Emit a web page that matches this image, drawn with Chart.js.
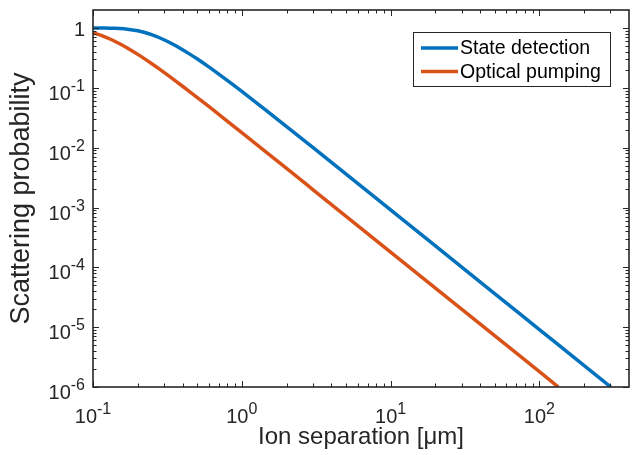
<!DOCTYPE html>
<html>
<head>
<meta charset="utf-8">
<script src="https://cdn.jsdelivr.net/npm/chart.js@4.4.1/dist/chart.umd.min.js"></script>
<style>
    html, body { margin: 0; padding: 0; background: #fff; }
</style>
</head>
<body>
<canvas id="scatterChart" width="632" height="455"></canvas>
<script>
// ==============================
// Data
// ==============================
const seriesNames = ["State detection", "Optical pumping"];
const seriesColors = ["#0072BD", "#D95319"];

const detectionSep = [0.1, 0.11, 0.12, 0.13, 0.14, 0.15, 0.17, 0.2, 0.22, 0.25, 0.28, 0.3, 0.33, 0.36, 0.4, 0.45, 0.5, 0.6, 0.7, 0.85, 1, 1.2, 1.5, 2, 3, 5, 10, 20, 50, 100, 200, 302];
const detectionProb = [0.9999, 0.9995, 0.9982, 0.9955, 0.9905, 0.9826, 0.9574, 0.8977, 0.848, 0.7676, 0.6875, 0.637, 0.5672, 0.5052, 0.4345, 0.3626, 0.3056, 0.2238, 0.1698, 0.1186, 0.0872, 0.0614, 0.0397, 0.02254, 0.01008, 0.003641, 0.000912, 0.000228, 3.648e-5, 9.12e-6, 2.28e-6, 1.0e-6];

const pumpingSep = [0.1, 0.11, 0.12, 0.13, 0.14, 0.15, 0.17, 0.2, 0.22, 0.25, 0.28, 0.3, 0.33, 0.36, 0.4, 0.45, 0.5, 0.6, 0.7, 0.85, 1, 1.5, 2, 3, 5, 10, 20, 50, 100, 134];
const pumpingProb = [0.8347, 0.7741, 0.7135, 0.6553, 0.6008, 0.5507, 0.4636, 0.3624, 0.3106, 0.2502, 0.2051, 0.1813, 0.1524, 0.1297, 0.1064, 0.0851, 0.0695, 0.0488, 0.03607, 0.0246, 0.01784, 0.007968, 0.00449, 0.001998, 0.00072, 0.00018, 4.5e-5, 7.2e-6, 1.8e-6, 1.0e-6];

const xTickExponents = [-1, 0, 1, 2];
const yTickExponents = [0, -1, -2, -3, -4, -5, -6];

const xRange = [0.1, 400];
const yRange = [1e-6, 2];

const FONT = "'Liberation Sans', Arial, Helvetica, sans-serif";
const AXIS_COLOR = "#262626";


function toPoints(xs, ys) {
    return xs.map((x, i) => ({ x: x, y: ys[i] }));
}


// ==============================
// Box, ticks, tick labels and legend drawn MATLAB style
// ==============================
const matlabAxes = {
    id: "matlabAxes",
    afterDraw(chart) {
        const ctx = chart.ctx;
        const area = chart.chartArea;
        const xs = chart.scales.x;
        const ys = chart.scales.y;

        ctx.save();
        ctx.strokeStyle = AXIS_COLOR;
        ctx.fillStyle = AXIS_COLOR;

        // minor + major ticks on all four sides
        ctx.lineWidth = 1;
        ctx.beginPath();
        for (let e = -1; e <= 2; e++) {
            for (let k = 1; k <= 9; k++) {
                const v = k * Math.pow(10, e);
                if (v <= xRange[0] && k > 1) continue;
                if (v >= xRange[1]) continue;
                const px = Math.round(xs.getPixelForValue(v)) + 0.5;
                const len = k === 1 ? 6 : 3.5;
                ctx.moveTo(px, area.bottom);
                ctx.lineTo(px, area.bottom - len);
                ctx.moveTo(px, area.top);
                ctx.lineTo(px, area.top + len);
            }
        }
        for (let e = -6; e <= 0; e++) {
            for (let k = 1; k <= 9; k++) {
                const v = k * Math.pow(10, e);
                if (v >= yRange[1]) continue;
                const py = Math.round(ys.getPixelForValue(v)) + 0.5;
                const len = k === 1 ? 6 : 3.5;
                ctx.moveTo(area.left, py);
                ctx.lineTo(area.left + len, py);
                ctx.moveTo(area.right, py);
                ctx.lineTo(area.right - len, py);
            }
        }
        ctx.stroke();

        // axes box
        ctx.lineWidth = 1.6;
        ctx.strokeRect(area.left, area.top, area.right - area.left, area.bottom - area.top);

        // x tick labels: 10^n
        const baseFont = "20px " + FONT;
        const expFont = "16px " + FONT;
        ctx.textBaseline = "alphabetic";
        ctx.textAlign = "left";
        xTickExponents.forEach(e => {
            const px = xs.getPixelForValue(Math.pow(10, e));
            ctx.font = baseFont;
            const wBase = ctx.measureText("10").width;
            ctx.font = expFont;
            const wExp = ctx.measureText(String(e)).width;
            const start = px - (wBase + wExp) / 2;
            const base = area.bottom + 36;
            ctx.font = baseFont;
            ctx.fillText("10", start, base);
            ctx.font = expFont;
            ctx.fillText(String(e), start + wBase, base - 9);
        });

        // y tick labels
        const rightEdge = area.left - 8;
        yTickExponents.forEach(e => {
            const py = ys.getPixelForValue(Math.pow(10, e));
            if (e === 0) {
                ctx.font = baseFont;
                ctx.textAlign = "right";
                ctx.fillText("1", rightEdge, py + 8);
                ctx.textAlign = "left";
                return;
            }
            ctx.font = baseFont;
            const wBase = ctx.measureText("10").width;
            ctx.font = expFont;
            const wExp = ctx.measureText(String(e)).width;
            const start = rightEdge - wBase - wExp;
            ctx.font = baseFont;
            ctx.fillText("10", start, py + 12);
            ctx.font = expFont;
            ctx.fillText(String(e), start + wBase, py + 3);
        });

        // legend box in the upper right corner
        const boxW = 197;
        const boxH = 54;
        const bx = area.right - 19 - boxW;
        const by = area.top + 22;
        ctx.fillStyle = "#ffffff";
        ctx.fillRect(bx, by, boxW, boxH);
        ctx.lineWidth = 1;
        ctx.strokeStyle = AXIS_COLOR;
        ctx.strokeRect(bx + 0.5, by + 0.5, boxW, boxH);

        ctx.font = "19.5px " + FONT;
        ctx.textBaseline = "middle";
        chart.data.datasets.forEach((ds, i) => {
            const rowY = by + 16 + i * 23.5;
            ctx.strokeStyle = ds.borderColor;
            ctx.lineWidth = 3.5;
            ctx.beginPath();
            ctx.moveTo(bx + 8, rowY);
            ctx.lineTo(bx + 45, rowY);
            ctx.stroke();
            ctx.fillStyle = "#000000";
            ctx.fillText(ds.label, bx + 47, rowY + 1);
        });

        ctx.restore();
    }
};


// ==============================
// Scattering probability chart
// ==============================
const chartCanvas = document.getElementById("scatterChart");

new Chart(chartCanvas, {
    type: "line",
    data: {
        datasets: [{
            label: seriesNames[0],
            data: toPoints(detectionSep, detectionProb),
            borderColor: seriesColors[0],
            borderWidth: 3.5,
            pointRadius: 0,
            fill: false,
            cubicInterpolationMode: "monotone"
        }, {
            label: seriesNames[1],
            data: toPoints(pumpingSep, pumpingProb),
            borderColor: seriesColors[1],
            borderWidth: 3.5,
            pointRadius: 0,
            fill: false,
            cubicInterpolationMode: "monotone"
        }]
    },
    options: {
        responsive: false,
        animation: false,
        devicePixelRatio: 1,
        layout: {
            padding: { top: 10, right: 3, left: 0, bottom: 0 }
        },
        plugins: {
            legend: { display: false },
            tooltip: { enabled: false }
        },
        scales: {
            x: {
                type: "logarithmic",
                min: xRange[0],
                max: xRange[1],
                grid: { display: false },
                border: { display: false },
                ticks: { display: false },
                title: {
                    display: true,
                    text: "Ion separation [\u03bcm]",
                    color: AXIS_COLOR,
                    font: { family: FONT, size: 24 },
                    padding: { top: 0, bottom: 3 }
                },
                afterFit(scale) {
                    scale.height = 68;
                }
            },
            y: {
                type: "logarithmic",
                min: yRange[0],
                max: yRange[1],
                grid: { display: false },
                border: { display: false },
                ticks: { display: false },
                title: {
                    display: true,
                    text: "Scattering probability",
                    color: AXIS_COLOR,
                    font: { family: FONT, size: 27 },
                    padding: { top: 5, bottom: 0 }
                },
                afterFit(scale) {
                    scale.width = 93;
                }
            }
        }
    },
    plugins: [matlabAxes]
});
</script>
</body>
</html>
